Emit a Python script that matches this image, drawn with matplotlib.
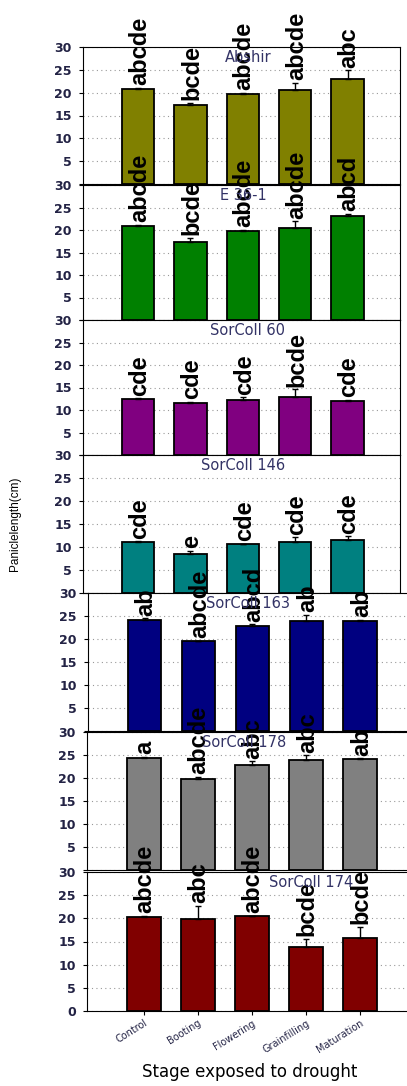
"""
Panicle length (cm) of seven sorghum genotypes by the stage exposed to drought,
one stacked bar panel per genotype with mean separation letters above the bars.
"""
import matplotlib.pyplot as plt

stages = ["Control", "Booting", "Flowering", "Grainfilling", "Maturation"]
genotypes = ["Abshir", "E 36-1", "SorColl 60", "SorColl 146",
             "SorColl 163", "SorColl 178", "SorColl 174"]

abshir_mean = [20.7, 17.4, 19.8, 20.5, 23.1]
abshir_err = [0.3, 0.3, 0.2, 1.7, 1.8]
abshir_letters = ["abcde", "bcde", "abcde", "abcde", "abc"]

e361_mean = [20.8, 17.4, 19.8, 20.5, 23.2]
e361_err = [0.3, 0.9, 0.2, 1.4, 0.3]
e361_letters = ["abcde", "bcde", "abcde", "abcde", "abcd"]

sc60_mean = [12.5, 11.5, 12.2, 12.9, 11.9]
sc60_err = [0.1, 0.3, 0.6, 1.7, 0.3]
sc60_letters = ["cde", "cde", "cde", "bcde", "cde"]

sc146_mean = [11.0, 8.4, 10.7, 11.0, 11.6]
sc146_err = [0.2, 0.7, 0.05, 1.1, 0.7]
sc146_letters = ["cde", "e", "cde", "cde", "cde"]

sc163_mean = [24.2, 19.6, 22.9, 23.9, 23.9]
sc163_err = [0.3, 0.05, 0.3, 1.3, 0.3]
sc163_letters = ["ab", "abcde", "abcd", "ab", "ab"]

sc178_mean = [24.4, 19.7, 22.9, 23.9, 24.2]
sc178_err = [0.2, 0.6, 0.7, 1.0, 0.05]
sc178_letters = ["a", "abcde", "abc", "abc", "ab"]

sc174_mean = [20.2, 19.8, 20.4, 13.9, 15.8]
sc174_err = [0.3, 2.9, 0.05, 1.6, 2.3]
sc174_letters = ["abcde", "abc", "abcde", "bcde", "bcde"]

means = [abshir_mean, e361_mean, sc60_mean, sc146_mean, sc163_mean, sc178_mean, sc174_mean]
errs = [abshir_err, e361_err, sc60_err, sc146_err, sc163_err, sc178_err, sc174_err]
letters = [abshir_letters, e361_letters, sc60_letters, sc146_letters,
           sc163_letters, sc178_letters, sc174_letters]
colors = ["#808000", "#008000", "#800080", "#008080", "#000080", "#808080", "#800000"]

# panel boxes in pixels (left, top, right, bottom)
W, H = 407, 1086
boxes = [(83, 47, 400, 184), (83, 185, 400, 320), (83, 320, 400, 455),
         (83, 455, 400, 593), (88, 593, 414, 731), (87, 732, 414, 870),
         (87, 872, 414, 1011)]
title_x = [0.52, 0.505, 0.52, 0.505, 0.49, 0.48, 0.685]
tick_col = "#222244"
yticks = list(range(0, 31, 5))

fig = plt.figure(figsize=(W / 100, H / 100), dpi=100)
x = list(range(len(stages)))

for i, (l, t, r, b) in enumerate(boxes):
    ax = fig.add_axes([l / W, (H - b) / H, (r - l) / W, (b - t) / H])
    ax.set_axisbelow(True)
    ax.yaxis.grid(True, linestyle=(0, (1, 3)), color="#999999", linewidth=0.8)
    ax.bar(x, means[i], width=0.62, color=colors[i], edgecolor="black", linewidth=1.3,
           yerr=[[0] * 5, errs[i]], capsize=2.5, error_kw=dict(elinewidth=1, capthick=1))
    for xi, m, e, lab in zip(x, means[i], errs[i], letters[i]):
        ax.annotate(lab, xy=(xi, m + e), xytext=(1, 2), textcoords="offset points",
                    rotation=90, ha="center", va="bottom", fontsize=17,
                    fontweight="bold", family="Liberation Sans", annotation_clip=False)
    ax.text(title_x[i], 0.925, genotypes[i], transform=ax.transAxes, ha="center",
            va="center", fontsize=10.5, color="#333366")
    ax.set_ylim(0, 30)
    ax.set_xlim(-1.05, 5.0)
    ax.set_yticks(yticks)
    # the 0 of each upper panel sits under the 30 of the panel below
    last = i == len(boxes) - 1
    ax.set_yticklabels([str(v) if (v != 0 or last) else "" for v in yticks],
                       fontweight="bold")
    ax.tick_params(axis="y", direction="out", length=3, pad=5, labelsize=9,
                   labelcolor=tick_col)
    if i >= 4:
        ax.spines["right"].set_visible(False)
    if not last:
        ax.set_xticks([])
    else:
        ax.set_xticks(x)
        ax.set_xticklabels(stages, rotation=32, ha="right", rotation_mode="anchor",
                           fontsize=7, color=tick_col)
        ax.tick_params(axis="x", length=3, pad=2)

fig.text(15 / W, (H - 524) / H, "Paniclelength(cm)", rotation=90, ha="center",
         va="center", fontsize=8.5, family="Liberation Sans")
fig.text(250 / W, (H - 1072) / H, "Stage exposed to drought", ha="center",
         va="center", fontsize=12)

fig.savefig("out.png", dpi=100)
